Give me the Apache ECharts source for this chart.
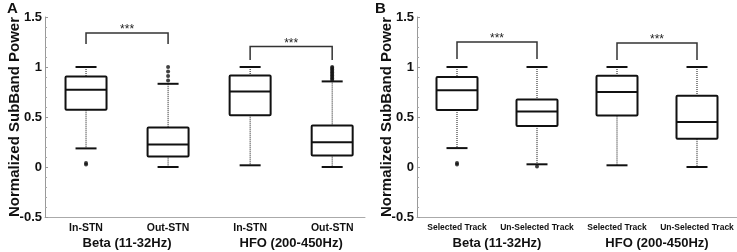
<!DOCTYPE html>
<html>
<head>
<meta charset="utf-8">
<script src="https://cdn.jsdelivr.net/npm/echarts@6/dist/echarts.min.js"></script>
<style>
  html, body { margin: 0; padding: 0; background: #fff; }
  #chart { width: 737px; height: 252px; }
</style>
</head>
<body>
<div id="chart"></div>
<script>
// axis ticks and labels
const yTicks = [-0.5, 0, 0.5, 1, 1.5];
const groupLabels = ["Beta (11-32Hz)", "HFO (200-450Hz)"];
const groupPos = [1.5, 3.5];
const boxPos = [1, 2, 3, 4];
const catsA = ["In-STN", "Out-STN", "In-STN", "Out-STN"];
const catsB = ["Selected Track", "Un-Selected Track", "Selected Track", "Un-Selected Track"];

// box stats: [min, q1, median, q3, max]
const boxesA = [
  [0.186, 0.573, 0.772, 0.905, 1.0],
  [0.0, 0.106, 0.226, 0.395, 0.832],
  [0.017, 0.517, 0.755, 0.915, 1.0],
  [0.0, 0.116, 0.248, 0.414, 0.856],
];
const boxesB = [
  [0.189, 0.57, 0.767, 0.9, 1.0],
  [0.027, 0.411, 0.554, 0.676, 1.0],
  [0.017, 0.514, 0.75, 0.912, 1.0],
  [0.0, 0.282, 0.451, 0.713, 1.0],
];

// outliers per box
const outliersA = [
  [0.025, 0.04],
  [0.865, 0.91, 0.955, 1.0],
  [],
  [0.87, 0.885, 0.9, 0.915, 0.93, 0.945, 0.96, 0.975, 0.99, 1.0],
];
const outliersB = [
  [0.025, 0.04],
  [0.004],
  [],
  [],
];

// significance brackets: [from, to, top, legEnd]
const bracketsA = [
  [1, 2, 1.34, 1.23],
  [3, 4, 1.205, 1.07],
];
const bracketsB = [
  [1, 2, 1.25, 1.08],
  [3, 4, 1.24, 1.07],
];

const FONT = "'Liberation Sans', Arial, sans-serif";
const BOX_W = 41;
const CAP_W = 21;
const INK = "#111";

const chart = echarts.init(document.getElementById("chart"));

function renderBox(params, api) {
  const x = api.value(0);
  const p = [1, 2, 3, 4, 5].map((d) => api.coord([x, api.value(d)]));
  const cx = p[0][0];
  const hw = BOX_W / 2, cw = CAP_W / 2;
  const dotted = { stroke: INK, lineWidth: 1, lineDash: [1, 1] };
  const solid = { stroke: INK, lineWidth: 2 };
  return {
    type: "group",
    children: [
      { type: "line", shape: { x1: cx, y1: p[4][1], x2: cx, y2: p[3][1] }, style: dotted },
      { type: "line", shape: { x1: cx, y1: p[1][1], x2: cx, y2: p[0][1] }, style: dotted },
      { type: "line", shape: { x1: cx - cw, y1: p[4][1], x2: cx + cw, y2: p[4][1] }, style: solid },
      { type: "line", shape: { x1: cx - cw, y1: p[0][1], x2: cx + cw, y2: p[0][1] }, style: solid },
      {
        type: "rect",
        shape: { x: cx - hw, y: p[3][1], width: BOX_W, height: p[1][1] - p[3][1], r: 1 },
        style: { fill: "#fff", stroke: INK, lineWidth: 2 },
      },
      { type: "line", shape: { x1: cx - hw, y1: p[2][1], x2: cx + hw, y2: p[2][1] }, style: solid },
    ],
  };
}

function renderBracket(params, api) {
  const a = api.coord([api.value(0), api.value(2)]);
  const b = api.coord([api.value(1), api.value(2)]);
  const aEnd = api.coord([api.value(0), api.value(3)]);
  const style = { stroke: "#333", lineWidth: 1.5, fill: null };
  return {
    type: "group",
    children: [
      {
        type: "polyline",
        shape: { points: [[a[0], aEnd[1]], a, b, [b[0], aEnd[1]]] },
        style,
      },
      {
        type: "text",
        x: (a[0] + b[0]) / 2,
        y: a[1] - 3,
        style: {
          text: "***", fontSize: 12, fontFamily: FONT, fill: "#222",
          align: "center", verticalAlign: "middle",
        },
      },
    ],
  };
}

function panelAxes(i, cats, xMax) {
  return [
    {
      type: "value", gridIndex: i, min: 0.5, max: xMax,
      axisLine: { onZero: false, lineStyle: { color: "#aaa", width: 1 } },
      axisTick: { show: false },
      splitLine: { show: false },
      axisLabel: {
        customValues: boxPos,
        formatter: (v) => cats[boxPos.indexOf(v)],
        color: "#111", fontWeight: "bold", fontFamily: FONT,
        fontSize: i === 0 ? 10.5 : 8.5, margin: 6,
      },
    },
    {
      type: "value", gridIndex: i, min: 0.5, max: xMax, position: "bottom",
      axisLine: { show: false, onZero: false },
      axisTick: { show: false },
      splitLine: { show: false },
      axisLabel: {
        customValues: groupPos,
        formatter: (v) => groupLabels[groupPos.indexOf(v)],
        color: "#111", fontWeight: "bold", fontFamily: FONT, fontSize: 13, margin: 20,
      },
    },
  ];
}

function yAxis(i) {
  return {
    type: "value", gridIndex: i,
    min: yTicks[0], max: yTicks[yTicks.length - 1], interval: 0.5,
    name: "Normalized SubBand Power", nameLocation: "middle", nameGap: 23,
    nameMoveOverlap: false,
    nameTextStyle: { fontSize: 15, fontWeight: "bold", fontFamily: FONT, color: "#111" },
    axisLine: { show: true, lineStyle: { color: "#999" } },
    axisTick: { show: true, inside: true, length: 3, lineStyle: { color: "#999" } },
    minorTick: { show: true, splitNumber: 5, length: 2, lineStyle: { color: "#aaa" } },
    splitLine: { show: false },
    minorSplitLine: { show: false },
    axisLabel: {
      color: "#111", fontWeight: "bold", fontFamily: FONT, fontSize: 13, margin: 3,
    },
  };
}

function panelSeries(i, boxes, outliers, brackets) {
  const pts = [];
  outliers.forEach((arr, k) => arr.forEach((v) => pts.push([boxPos[k], v])));
  return [
    {
      type: "custom", xAxisIndex: 2 * i, yAxisIndex: i,
      renderItem: renderBox,
      encode: { x: 0, y: [1, 2, 3, 4, 5] },
      data: boxes.map((b, k) => [boxPos[k], ...b]),
      z: 2,
    },
    {
      type: "scatter", xAxisIndex: 2 * i, yAxisIndex: i,
      symbolSize: 4, itemStyle: { color: INK },
      data: pts, z: 3,
    },
    {
      type: "custom", xAxisIndex: 2 * i, yAxisIndex: i,
      renderItem: renderBracket,
      encode: { x: [0, 1], y: [2, 3] },
      data: brackets, clip: false,
    },
  ];
}

chart.setOption({
  animation: false,
  title: [
    { text: "A", left: 7, top: 1, padding: 0, textStyle: { fontSize: 15, fontWeight: "bold", fontFamily: FONT, color: "#111" } },
    { text: "B", left: 375, top: 1, padding: 0, textStyle: { fontSize: 15, fontWeight: "bold", fontFamily: FONT, color: "#111" } },
  ],
  grid: [
    { left: 45, width: 320, top: 17, bottom: 35 },
    { left: 417, width: 320, top: 17, bottom: 35 },
  ],
  xAxis: [...panelAxes(0, catsA, 4.4), ...panelAxes(1, catsB, 4.5)],
  yAxis: [yAxis(0), yAxis(1)],
  series: [
    ...panelSeries(0, boxesA, outliersA, bracketsA),
    ...panelSeries(1, boxesB, outliersB, bracketsB),
  ],
});
</script>
</body>
</html>
